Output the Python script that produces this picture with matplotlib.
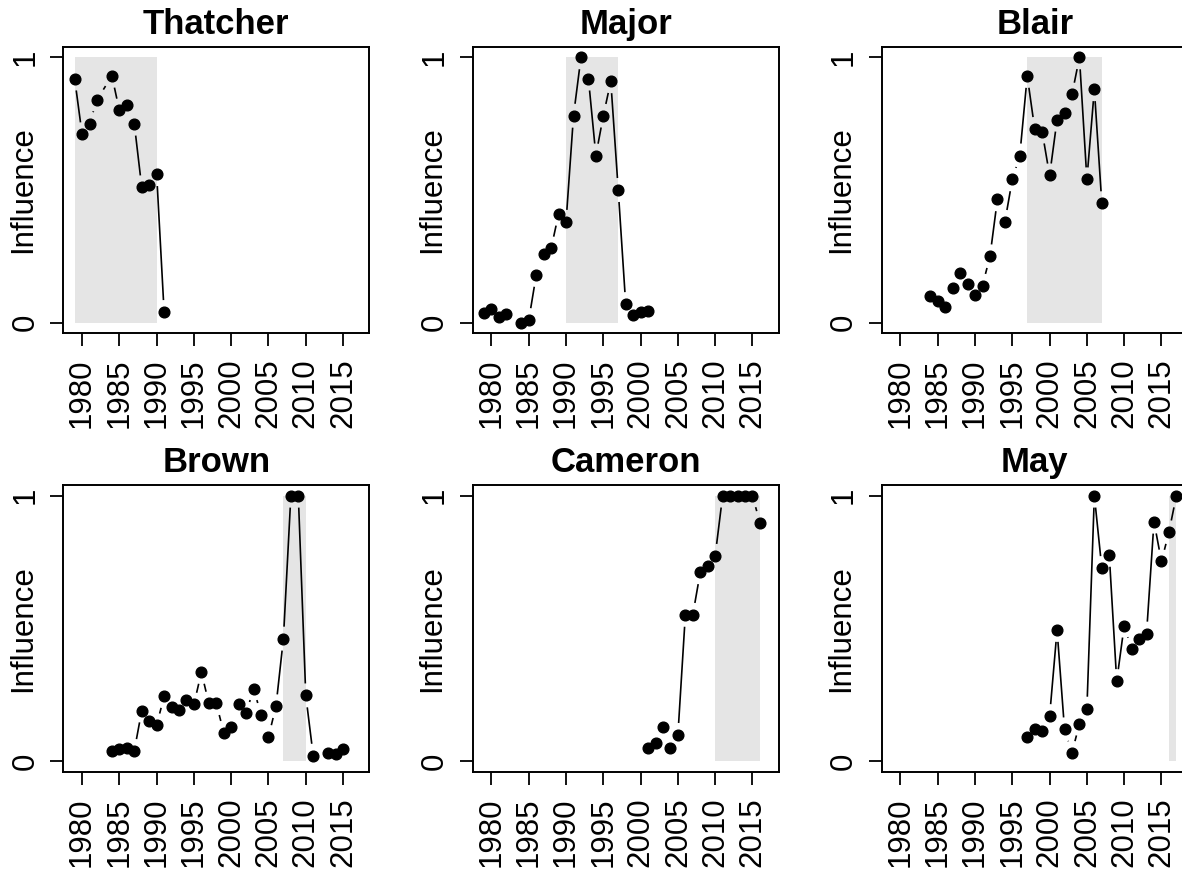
import numpy as np
import matplotlib
matplotlib.use("Agg")
import matplotlib.pyplot as plt

plt.rcParams['font.family'] = ['Liberation Sans', 'DejaVu Sans']

# 各首相的影响力数据
thatcher_years = [1979, 1980, 1981, 1982, 1984, 1985, 1986, 1987, 1988, 1989, 1990, 1991]
thatcher_vals = [0.92, 0.71, 0.75, 0.84, 0.93, 0.80, 0.82, 0.75, 0.51, 0.52, 0.56, 0.04]

major_years = [1979, 1980, 1981, 1982, 1984, 1985, 1986, 1987, 1988, 1989, 1990,
               1991, 1992, 1993, 1994, 1995, 1996, 1997, 1998, 1999, 2000, 2001]
major_vals = [0.035, 0.05, 0.02, 0.033, 0.0, 0.01, 0.18, 0.26, 0.28, 0.41, 0.38,
              0.78, 1.0, 0.92, 0.63, 0.78, 0.91, 0.50, 0.07, 0.03, 0.04, 0.043]

blair_years = [1984, 1985, 1986, 1987, 1988, 1989, 1990, 1991, 1992, 1993, 1994, 1995,
               1996, 1997, 1998, 1999, 2000, 2001, 2002, 2003, 2004, 2005, 2006, 2007]
blair_vals = [0.10, 0.083, 0.058, 0.13, 0.186, 0.147, 0.104, 0.14, 0.25, 0.465, 0.38, 0.54,
              0.63, 0.93, 0.73, 0.72, 0.555, 0.765, 0.79, 0.86, 1.0, 0.54, 0.88, 0.45]

brown_years = [1984, 1985, 1986, 1987, 1988, 1989, 1990, 1991, 1992, 1993, 1994, 1995,
               1996, 1997, 1998, 1999, 2000, 2001, 2002, 2003, 2004, 2005, 2006, 2007,
               2008, 2009, 2010, 2011, 2013, 2014, 2015]
brown_vals = [0.038, 0.045, 0.048, 0.038, 0.19, 0.15, 0.135, 0.244, 0.204, 0.192, 0.23, 0.213,
              0.335, 0.217, 0.217, 0.107, 0.129, 0.214, 0.179, 0.273, 0.175, 0.091, 0.206, 0.461,
              1.0, 1.0, 0.247, 0.02, 0.031, 0.028, 0.046]

cameron_years = [2001, 2002, 2003, 2004, 2005, 2006, 2007, 2008, 2009, 2010,
                 2011, 2012, 2013, 2014, 2015, 2016]
cameron_vals = [0.05, 0.066, 0.129, 0.05, 0.098, 0.551, 0.551, 0.711, 0.736, 0.773,
                1.0, 1.0, 1.0, 1.0, 1.0, 0.898]

may_years = [1997, 1998, 1999, 2000, 2001, 2002, 2003, 2004, 2005, 2006, 2007,
             2008, 2009, 2010, 2011, 2012, 2013, 2014, 2015, 2016, 2017]
may_vals = [0.091, 0.119, 0.112, 0.169, 0.494, 0.119, 0.031, 0.14, 0.197, 1.0, 0.727,
            0.777, 0.301, 0.51, 0.421, 0.46, 0.48, 0.902, 0.752, 0.862, 1.0]

names = ["Thatcher", "Major", "Blair", "Brown", "Cameron", "May"]
term_start = [1979, 1990, 1997, 2007, 2010, 2016]
term_end = [1990, 1997, 2007, 2010, 2016, 2017]
xticks = [1980, 1985, 1990, 1995, 2000, 2005, 2010, 2015]

series = [(thatcher_years, thatcher_vals), (major_years, major_vals),
          (blair_years, blair_vals), (brown_years, brown_vals),
          (cameron_years, cameron_vals), (may_years, may_vals)]

W, H = 1182, 869
fig = plt.figure(figsize=(W / 100, H / 100), dpi=100)

lefts = [63.3, 472.7, 881.7]
tops = [46.7, 485.0]
aw, ah = 306.0, 286.6
gap = 12.0  # type="b" 风格的线段留白（像素）

for i, name in enumerate(names):
    r, c = divmod(i, 3)
    ax = fig.add_axes([lefts[c] / W, 1 - (tops[r] + ah) / H, aw / W, ah / H])
    x, y = series[i]
    ax.set_xlim(1979 - 1.52, 2017 + 1.52)
    ax.set_ylim(-0.04, 1.04)

    ax.fill_between([term_start[i], term_end[i]], 0, 1, color="#E5E5E5", lw=0, zorder=1)

    # 线段两端留空，模仿 R 的 type="b"
    pts = ax.transData.transform(np.column_stack([x, y]))
    inv = ax.transData.inverted()
    for p0, p1 in zip(pts[:-1], pts[1:]):
        d = p1 - p0
        L = np.hypot(*d)
        if L <= 2 * gap:
            continue
        a = inv.transform(p0 + d / L * gap)
        b = inv.transform(p1 - d / L * gap)
        ax.plot([a[0], b[0]], [a[1], b[1]], color="black", lw=1.2, zorder=2,
                solid_capstyle="butt")
    ax.plot(x, y, "o", color="black", ms=7.7, zorder=3)

    ax.set_xticks(xticks)
    ax.set_yticks([0, 1])
    ax.set_yticklabels(["0", "1"], rotation=90, va="center")
    ax.tick_params(axis="both", direction="out", length=9.4, width=1.3, labelsize=22.5)
    ax.tick_params(axis="x", labelrotation=90, pad=9)
    ax.tick_params(axis="y", pad=7)
    for s in ax.spines.values():
        s.set_linewidth(1.4)

    ax.set_title(name, fontsize=25, fontweight="bold", pad=9.4)
    ax.set_ylabel("Influence", fontsize=22.5)
    ax.yaxis.set_label_coords((23 - lefts[0]) / aw, 0.5)
    ax.yaxis.label.set_va("center")

fig.savefig("out.png", dpi=100)
